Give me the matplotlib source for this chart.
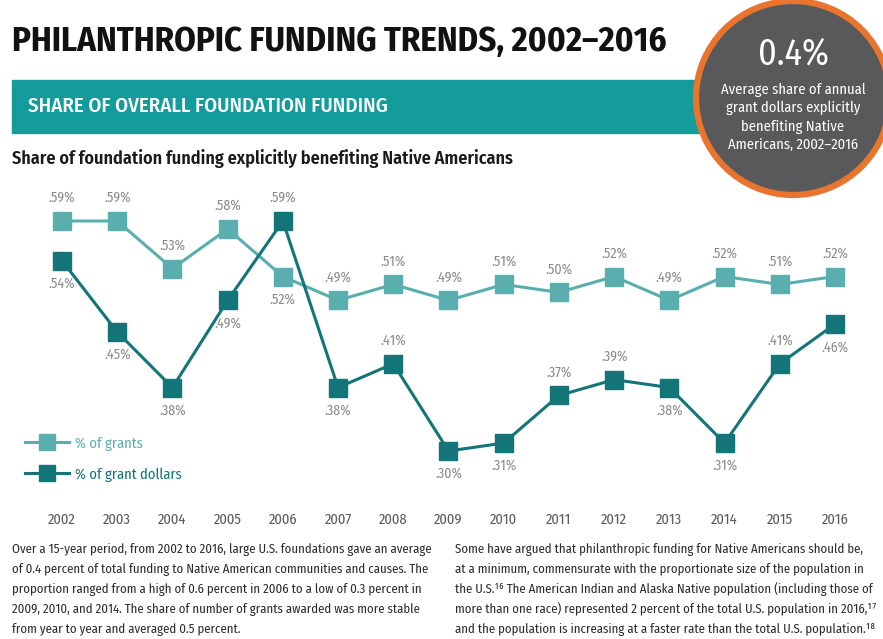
import matplotlib
matplotlib.use('Agg')
import matplotlib.pyplot as plt
from matplotlib import font_manager
from matplotlib.patches import Rectangle, Circle
from matplotlib.lines import Line2D


years = [2002, 2003, 2004, 2005, 2006, 2007, 2008, 2009,
         2010, 2011, 2012, 2013, 2014, 2015, 2016]
share_grants = [0.59, 0.59, 0.53, 0.58, 0.52, 0.49, 0.51, 0.49,
                0.51, 0.50, 0.52, 0.49, 0.52, 0.51, 0.52]
share_dollars = [0.54, 0.45, 0.38, 0.49, 0.59, 0.38, 0.41, 0.30,
                 0.31, 0.37, 0.39, 0.38, 0.31, 0.41, 0.46]
# label above (+1) or below (-1) the marker
grants_side = [1, 1, 1, 1, -1, 1, 1, 1, 1, 1, 1, 1, 1, 1, 1]
dollars_side = [-1, -1, -1, -1, 1, -1, 1, -1, -1, 1, 1, -1, -1, 1, -1]
series_names = ['% of grants', '% of grant dollars']

# condensed sans if one is installed, else fall back
names = {f.name for f in font_manager.fontManager.ttflist}
narrow = None
for cand in ['Fira Sans Condensed', 'Roboto Condensed', 'Open Sans Condensed',
             'Liberation Sans Narrow', 'Roboto']:
    if cand in names:
        narrow = [cand, 'DejaVu Sans']
        break
if narrow is None:
    narrow = ['DejaVu Sans']

light = '#5aaeae'
dark = '#137577'
grey = '#8a8a8a'
W, H = 883, 639

fig = plt.figure(figsize=(W / 100, H / 100), dpi=100)
fig.patch.set_facecolor('white')


def fx(px):
    return px / W


def fy(py):
    return 1 - py / H


# headline
fig.text(fx(12), fy(42), 'PHILANTHROPIC FUNDING TRENDS, 2002\u20132016',
         family=narrow, fontsize=25, weight='bold', color='#111111', va='center')

# teal banner
fig.patches.append(Rectangle((fx(12), fy(133)), fx(720 - 12), (133 - 80) / H,
                             transform=fig.transFigure, color='#149c9a', zorder=1))
fig.text(fx(28), fy(106), 'SHARE OF OVERALL FOUNDATION FUNDING',
         family=narrow, fontsize=15, weight='medium', color='white', va='center', zorder=2)

fig.text(fx(12), fy(159), 'Share of foundation funding explicitly benefiting Native Americans',
         family=narrow, fontsize=13, weight='semibold', color='#1a1a1a', va='center')

# circle callout, in its own square axes so it stays round
R = 100
cx, cy = 793, 98
cax = fig.add_axes([fx(cx - R), fy(cy + R), 2 * R / W, 2 * R / H])
cax.set_zorder(10)
cax.set_xlim(-R, R)
cax.set_ylim(R, -R)
cax.axis('off')
cax.add_patch(Circle((0, 0), R - 3, facecolor='#59595b', edgecolor='#e8742e',
                     linewidth=4.5, clip_on=False))
cax.text(0, 54 - cy, '0.4%', family=narrow, fontsize=26, color='white',
         ha='center', va='center')
callout = ['Average share of annual', 'grant dollars explicitly',
           'benefiting Native', 'Americans, 2002\u20132016']
for i, line in enumerate(callout):
    cax.text(0, 90 + i * 18.3 - cy, line, family=narrow, fontsize=10.5,
             color='white', ha='center', va='center')

# chart area: 2002 at x=62px, 2016 at x=835px; .59 at y=221px, .30 at y=451px
ppx = (835 - 62) / 14
ppy = (451 - 221) / 0.29
x0, x1 = 2001.3, 2016.7
y0, y1 = 0.27, 0.62
left = 62 - (2002 - x0) * ppx
right = 835 + (x1 - 2016) * ppx
top = 221 - (y1 - 0.59) * ppy
bottom = 451 + (0.30 - y0) * ppy
ax = fig.add_axes([fx(left), fy(bottom), (right - left) / W, (bottom - top) / H])
ax.set_xlim(x0, x1)
ax.set_ylim(y0, y1)
ax.patch.set_alpha(0)
for s in ax.spines.values():
    s.set_visible(False)
ax.set_yticks([])
ax.set_xticks(years)
ax.set_xticklabels([str(y) for y in years], family=narrow, fontsize=10.5, color='#5a5a5a')
ax.tick_params(axis='x', length=0, pad=27)

ax.plot(years, share_grants, color=light, lw=2.2, marker='s', ms=13,
        mfc=light, mec=light, zorder=3)
ax.plot(years, share_dollars, color=dark, lw=2.2, marker='s', ms=13,
        mfc=dark, mec=dark, zorder=4)

off = 23 / ppy
for yr, v, sd in zip(years, share_grants, grants_side):
    ax.text(yr, v + sd * off, ('%.2f' % v)[1:] + '%', family=narrow, fontsize=10,
            color=grey, ha='center', va='center', zorder=5)
for yr, v, sd in zip(years, share_dollars, dollars_side):
    ax.text(yr, v + sd * off, ('%.2f' % v)[1:] + '%', family=narrow, fontsize=10,
            color=grey, ha='center', va='center', zorder=5)

# legend
handles = [Line2D([], [], color=light, lw=2.2, marker='s', ms=11),
           Line2D([], [], color=dark, lw=2.2, marker='s', ms=11)]
leg = fig.legend(handles, series_names, loc='upper left',
                 bbox_to_anchor=(fx(18), fy(429)), frameon=False,
                 prop={'family': narrow, 'size': 10.5}, handlelength=3.0,
                 labelspacing=1.15, handletextpad=0.4, borderpad=0)
leg.get_texts()[0].set_color(light)
leg.get_texts()[1].set_color(dark)

# body text
left_col = ['Over a 15-year period, from 2002 to 2016, large U.S. foundations gave an average',
            'of 0.4 percent of total funding to Native American communities and causes. The',
            'proportion ranged from a high of 0.6 percent in 2006 to a low of 0.3 percent in',
            '2009, 2010, and 2014. The share of number of grants awarded was more stable',
            'from year to year and averaged 0.5 percent.']
right_col = ['Some have argued that philanthropic funding for Native Americans should be,',
             'at a minimum, commensurate with the proportionate size of the population in',
             'the U.S.\u00b9\u2076 The American Indian and Alaska Native population (including those of',
             'more than one race) represented 2 percent of the total U.S. population in 2016,\u00b9\u2077',
             'and the population is increasing at a faster rate than the total U.S. population.\u00b9\u2078']
for i, line in enumerate(left_col):
    fig.text(fx(12), fy(549 + i * 20), line, family=narrow, fontsize=9.2,
             color='#2b2b2b', va='center')
for i, line in enumerate(right_col):
    fig.text(fx(455), fy(549 + i * 20), line, family=narrow, fontsize=9.2,
             color='#2b2b2b', va='center')

fig.savefig('out.png', dpi=100, facecolor='white')
